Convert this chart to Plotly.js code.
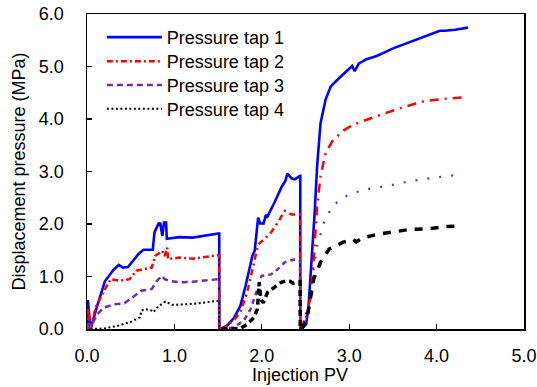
<!DOCTYPE html>
<html>
<head>
<meta charset="utf-8">
<script src="https://cdn.plot.ly/plotly-3.0.1.min.js"></script>
<style>html,body{margin:0;padding:0;background:#fff;}#chart{width:537px;height:387px;}</style>
</head>
<body>
<div id="chart"></div>
<script>
// Injection PV (x) and displacement pressure in MPa (y) per pressure tap
const seriesNames = ['Pressure tap 1', 'Pressure tap 2', 'Pressure tap 3', 'Pressure tap 4'];
const xTitle = 'Injection PV';
const yTitle = 'Displacement pressure (MPa)';

const tap1X = [0.005,0.01,0.04,0.047,0.1,0.148,0.205,0.30,0.363,0.41,0.468,0.527,0.585,0.644,0.753,0.772,0.819,0.839,0.862,0.881,0.905,0.913,1.053,1.209,1.365,1.502,1.513,1.513,
  1.521,1.60,1.677,1.755,1.814,1.892,1.919,1.958,1.981,2.02,2.048,2.059,2.145,2.231,2.27,2.293,2.34,2.379,2.438,2.44,2.44,
  2.457,2.508,2.535,2.574,2.605,2.633,2.672,2.73,2.789,2.886,3.003,3.034,3.062,3.112,3.198,3.315,3.51,3.705,3.9,4.037,4.095,4.212,4.36];
const tap1Y = [0,0.55,0,0.03,0.35,0.62,0.91,1.12,1.22,1.17,1.18,1.30,1.42,1.51,1.51,1.84,2.01,2.01,1.77,2.03,2.03,1.72,1.75,1.74,1.79,1.82,1.82,0,
  0,0.06,0.20,0.44,0.82,1.39,1.49,2.12,2.01,2.01,2.18,2.12,2.41,2.72,2.82,2.96,2.87,2.85,2.92,2.92,0,
  0,0.09,0.44,1.33,2.22,3.10,3.92,4.37,4.62,4.78,4.97,5.01,4.91,5.06,5.14,5.20,5.35,5.47,5.60,5.68,5.68,5.70,5.74];

const tap2X = [0.005,0.01,0.04,0.098,0.195,0.273,0.37,0.488,0.566,0.741,0.78,0.858,0.889,0.917,0.928,1.053,1.209,1.365,1.502,1.513,1.513,
  1.54,1.677,1.755,1.833,1.911,1.958,2.028,2.106,2.184,2.262,2.34,2.438,2.44,
  2.457,2.555,2.594,2.633,2.672,2.73,2.808,2.925,3.042,3.198,3.393,3.627,3.861,4.056,4.349];
const tap2Y = [0,0.40,0,0.41,0.73,0.95,0.92,0.95,1.11,1.17,1.39,1.49,1.39,1.55,1.33,1.36,1.34,1.38,1.41,1.41,0,
  0,0.16,0.32,0.70,1.27,1.61,1.71,1.84,2.03,2.25,2.18,2.18,0,
  0,0.57,1.33,2.34,2.91,3.35,3.58,3.77,3.89,3.99,4.10,4.23,4.34,4.38,4.42];

const tap3X = [0.005,0.01,0.039,0.117,0.195,0.312,0.429,0.546,0.624,0.741,0.80,0.858,0.889,0.936,1.053,1.209,1.365,1.502,1.513,1.513,
  1.521,1.677,1.794,1.872,1.95,1.997,2.106,2.145,2.262,2.36,2.438,2.44,
  2.457,2.535,2.594,2.633,2.711,2.808,2.925,3.042,3.198,3.315,3.51,3.705,3.9,4.095,4.29];
const tap3Y = [0,0.15,0.03,0.28,0.41,0.47,0.49,0.63,0.73,0.76,0.92,1.01,0.95,0.92,0.89,0.90,0.93,0.95,0.95,0,
  0,0.03,0.16,0.38,0.76,1.01,1.04,1.08,1.27,1.32,1.33,0,
  0,0.38,1.14,1.58,2.03,2.34,2.50,2.59,2.66,2.69,2.75,2.82,2.87,2.91,2.94];

const tap4X = [0.04,0.195,0.351,0.507,0.605,0.624,0.663,0.741,0.76,0.819,0.897,0.975,1.131,1.287,1.502,1.513,1.513,
  1.54,1.755,1.833,1.911,1.95,1.97,1.989,2.016,2.067,2.145,2.223,2.282,2.32,2.36,2.438,2.44,
  2.457,2.516,2.555,2.594,2.672,2.769,2.925,3.042,3.081,3.159,3.315,3.51,3.705,3.9,4.095,4.251];
const tap4Y = [0,0.01,0.06,0.14,0.22,0.35,0.38,0.35,0.32,0.44,0.52,0.46,0.47,0.49,0.54,0.54,0,
  0,0.01,0.09,0.22,0.38,0.89,0.57,0.50,0.70,0.79,0.89,0.92,0.91,0.87,0.90,0,
  0,0.19,0.57,0.95,1.27,1.52,1.65,1.71,1.66,1.74,1.80,1.85,1.90,1.91,1.95,1.96];

const xTicks = [0, 1, 2, 3, 4, 5];
const yTicks = [0, 1, 2, 3, 4, 5, 6];
const segmentBreaks = [1.517, 2.448];

// styling (per injection stage, to mimic the original rendering)
const colors = ['#0000FF', '#FF0000', '#7030A0', '#000000'];
const styles = [
  [{w:2.6, d:'solid'}, {w:2.6, d:'solid'}, {w:2.6, d:'solid'}],
  [{w:2.5, d:'6px,3px,2px,3px'}, {w:2.5, d:'6px,4px,2px,4px'}, {w:2.5, d:'9px,6px,2px,6px'}],
  [{w:2.5, d:'6px,4px'}, {w:2.5, d:'5px,4px'}, {w:2.2, d:'2px,10px'}],
  [{w:2, d:'2px,2.5px'}, {w:3.5, d:'6px,4px'}, {w:3.5, d:'8px,8px'}]
];
const legendIds = ['legend', 'legend2', 'legend3', 'legend4'];
const legendY = [0.9255, 0.849, 0.774, 0.698];

const xs = [tap1X, tap2X, tap3X, tap4X];
const ys = [tap1Y, tap2Y, tap3Y, tap4Y];

function segIndex(x) {
  if (x <= segmentBreaks[0]) return 0;
  if (x <= segmentBreaks[1]) return 1;
  return 2;
}

const traces = [];
for (let s = 0; s < 4; s++) {
  const segs = [{x:[],y:[]},{x:[],y:[]},{x:[],y:[]}];
  xs[s].forEach((xv, i) => { const k = segIndex(xv); segs[k].x.push(xv); segs[k].y.push(ys[s][i]); });
  segs.forEach((sg, k) => {
    traces.push({
      x: sg.x, y: sg.y, type: 'scatter', mode: 'lines',
      name: seriesNames[s], legendgroup: 'g' + s, showlegend: k === 0,
      legend: legendIds[s],
      line: {color: colors[s], width: styles[s][k].w, dash: styles[s][k].d}
    });
  });
}

const font = {family: 'Liberation Sans, Arial, sans-serif', size: 18, color: '#000'};
const layout = {
  width: 537, height: 387,
  margin: {l: 87, r: 13, t: 14, b: 57.5, pad: 0},
  paper_bgcolor: '#fff', plot_bgcolor: '#fff',
  font: font,
  showlegend: true,
  xaxis: {range: [0, 5], tickvals: xTicks, ticktext: xTicks.map(v => v.toFixed(1)),
          ticks: 'inside', ticklen: 5, tickwidth: 1.2, tickcolor: '#000',
          showline: true, linecolor: '#000', linewidth: 1.5, mirror: true,
          showgrid: false, zeroline: false, ticklabelstandoff: 10, automargin: false},
  yaxis: {range: [0, 6], tickvals: yTicks, ticktext: yTicks.map(v => v.toFixed(1)),
          ticks: 'inside', ticklen: 5, tickwidth: 1.2, tickcolor: '#000',
          showline: true, linecolor: '#000', linewidth: 1.5, mirror: true,
          showgrid: false, zeroline: false, ticklabelstandoff: 18,
          title: {text: yTitle, font: font, standoff: 8}, automargin: false},
  annotations: [
    {text: xTitle, xref: 'paper', yref: 'paper', x: 0.487, y: -0.1805, xanchor: 'center', yanchor: 'bottom',
     showarrow: false, font: font, borderpad: 0}
  ]
};
legendIds.forEach((id, i) => {
  layout[id] = {x: 0.034, y: legendY[i], xanchor: 'left', yanchor: 'middle', bgcolor: 'rgba(0,0,0,0)',
                borderwidth: 0, font: font, itemwidth: 55, tracegroupgap: 0};
});

Plotly.newPlot('chart', traces, layout, {staticPlot: true, displayModeBar: false});
</script>
</body>
</html>
